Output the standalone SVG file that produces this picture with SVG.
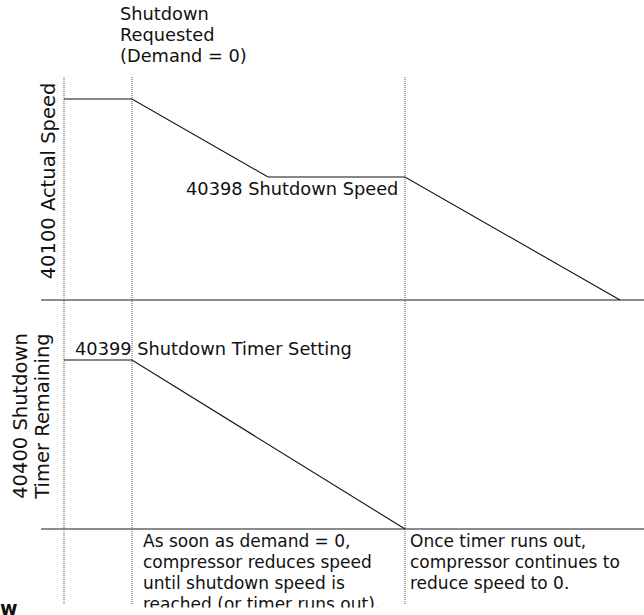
<svg xmlns="http://www.w3.org/2000/svg" width="644" height="615" viewBox="0 0 644 615">
<style>
text{font-family:"DejaVu Sans","Liberation Sans",sans-serif;fill:#111;}
.t{font-size:17.8px;}
.r{font-size:19.5px;text-anchor:middle;}
.b{font-size:17px;}
.grid{stroke:#555;stroke-width:1;stroke-dasharray:1 1;fill:none;}
.axis{stroke:#666;stroke-width:1.6;fill:none;}
.curve{stroke:#111;stroke-width:1.1;fill:none;}
</style>
<defs>
<clipPath id="clip"><rect x="0" y="0" width="644" height="607.5"/></clipPath>
</defs>
<g id="gridlines">
<line class="grid" x1="64" y1="77" x2="64" y2="605"/>
<line class="grid" x1="132" y1="77" x2="132" y2="605"/>
<line class="grid" x1="405" y1="77" x2="405" y2="605"/>
</g>
<g id="axes">
<line class="axis" x1="41" y1="300" x2="644" y2="300"/>
<line class="axis" x1="41" y1="529" x2="644" y2="529"/>
</g>
<g id="connectors">
<polyline class="curve" points="64,99 132,99 268,177 405,177 620,300"/>
<polyline class="curve" points="64,360 132,360 405,529"/>
</g>
<g id="shutdown-requested">
<text class="t" x="120" y="20">Shutdown</text>
<text class="t" x="120" y="41">Requested</text>
<text class="t" x="120" y="62">(Demand = 0)</text>
</g>
<g id="actual-speed-label">
<text class="r" transform="translate(54.5,181) rotate(-90)">40100 Actual Speed</text>
</g>
<g id="shutdown-speed-label">
<text class="t" x="186" y="195">40398 Shutdown Speed</text>
</g>
<g id="timer-label">
<text class="r" transform="translate(27,416) rotate(-90)">40400 Shutdown</text>
<text class="r" transform="translate(49,416) rotate(-90)">Timer Remaining</text>
</g>
<g id="timer-setting-label">
<text class="t" x="75" y="355">40399 Shutdown Timer Setting</text>
</g>
<g id="note-left" clip-path="url(#clip)">
<text class="b" x="143" y="547">As soon as demand = 0,</text>
<text class="b" x="143" y="568">compressor reduces speed</text>
<text class="b" x="143" y="589">until shutdown speed is</text>
<text class="b" x="143" y="610">reached (or timer runs out).</text>
</g>
<g id="note-right">
<text class="b" x="410" y="547">Once timer runs out,</text>
<text class="b" x="410" y="568">compressor continues to</text>
<text class="b" x="410" y="589">reduce speed to 0.</text>
</g>
<g id="cut-text">
<text x="0" y="615" style="font-size:19px;font-weight:bold;">w</text>
</g>
</svg>
